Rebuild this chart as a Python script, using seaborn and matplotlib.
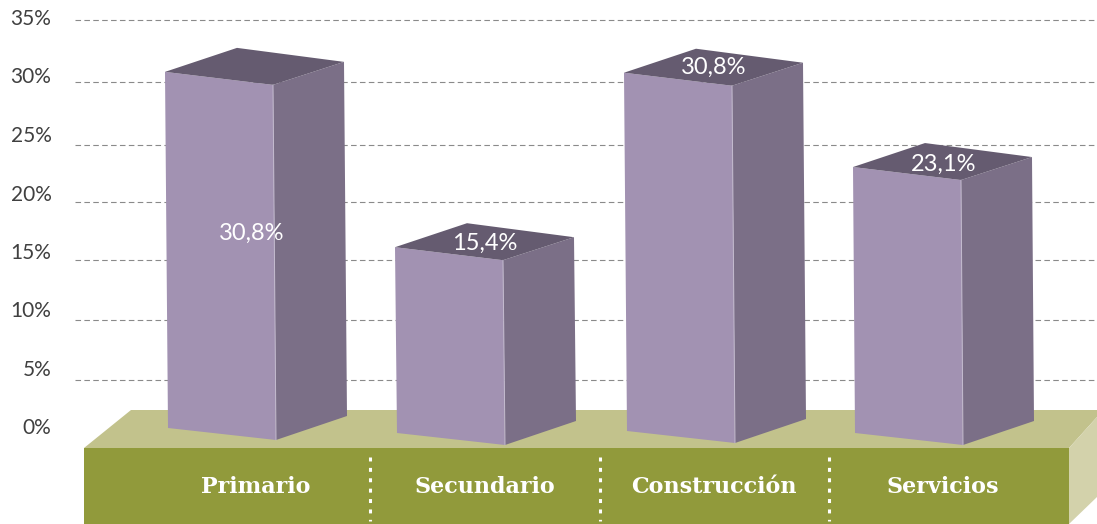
import numpy as np
import matplotlib
matplotlib.use('Agg')
import matplotlib.pyplot as plt
from matplotlib.patches import Polygon
import seaborn as sns

# data
categories = ['Primario', 'Secundario', 'Construcción', 'Servicios']
values = [30.8, 15.4, 30.8, 23.1]
value_labels = ['30,8%', '15,4%', '30,8%', '23,1%']
tick_labels = ['0%', '5%', '10%', '15%', '20%', '25%', '30%', '35%']

# layout, in picture pixels
W, H = 1097, 524
ZERO_PX, PX_PER_PCT = 440, 12
bar_left = [165, 395, 624, 853]
bar_width = 108
bar_base = [440, 445, 443, 445]
bar_scale = [11.53, 12.0, 11.6, 11.47]
bar_lean = [3, 2, 3, 2]
label_pos = [(252, 233), (485, 243), (714, 67), (944, 164)]
cat_x = [256, 485, 714, 943]
sep_x = [370, 600, 829]
tick_y = [426, 368, 309, 251, 193, 134, 75, 17]
grid_y = [380, 320, 260, 202, 145, 82, 20]

FRONT, SIDE, TOP = '#a292b2', '#7b6f87', '#655b70'


def py(y):
    # picture y -> percent on the axis
    return (ZERO_PX - np.asarray(y, dtype=float)) / PX_PER_PCT


def add_poly(ax, pts, color, z):
    xy = [(x, py(y)) for x, y in pts]
    ax.add_patch(Polygon(xy, closed=True, facecolor=color, edgecolor='none', zorder=z))


sns.set_style('white')
plt.rcParams['font.family'] = ['Lato', 'DejaVu Sans']

fig = plt.figure(figsize=(W / 100, H / 100), dpi=100)
ax = fig.add_axes([0, 0, 1, 1])

centers = [x + bar_width / 2 for x in bar_left]
sns.barplot(x=centers, y=values, native_scale=True, width=bar_width / 229, color=FRONT, ax=ax)

# barplot gives the heights, each rectangle is then redrawn as a box
for i, p in enumerate(list(ax.patches)):
    x0, w, h = p.get_x(), p.get_width(), p.get_height()
    base = bar_base[i]
    lean = bar_lean[i]
    top = base - h * bar_scale[i]
    tl = (x0, top - 13)
    tr = (x0 + w, top)
    br = (x0 + w + lean, base)
    bl = (x0 + lean, base - 12)
    add_poly(ax, [tl, tr, br, bl], FRONT, 5)
    add_poly(ax, [tr, (tr[0] + 71, top - 23), (br[0] + 71, base - 24), br], SIDE, 5)
    add_poly(ax, [tl, (x0 + 72, top - 37), (tr[0] + 71, top - 23), tr], TOP, 5)
    ax.plot([tr[0], br[0]], [py(tr[1]), py(br[1])], color='#c4bbcf', lw=0.7, zorder=6)
    p.remove()

# platform under the bars
add_poly(ax, [(84, 448), (131, 410), (W, 410), (W, 417), (1069, 448)], '#c2c28c', 2)
add_poly(ax, [(84, 448), (1069, 448), (1069, H), (84, H)], '#919a3b', 3)
add_poly(ax, [(1069, 448), (W, 417), (W, 497), (1069, H)], '#d3d2ab', 3)

for y in grid_y:
    ax.plot([75, W], [py(y), py(y)], color='#8a8a8a', lw=0.8, dashes=(5, 3), zorder=1)

for x in sep_x:
    ax.plot([x, x], [py(457), py(521)], color='white', lw=2.2, dashes=(1.3, 2.1),
            dash_capstyle='butt', zorder=6)

for (x, y), s in zip(label_pos, value_labels):
    ax.text(x, py(y), s, color='white', fontsize=17, ha='center', va='center', zorder=7)

for x, s in zip(cat_x, categories):
    ax.text(x, py(487), s, color='white', fontsize=16, fontweight='bold',
            family='DejaVu Serif', ha='center', va='center', zorder=7)

ax.set_xlim(0, W)
ax.set_ylim(py(H), py(0))
ax.set_xticks([])
ax.set_yticks(py(tick_y), tick_labels)
ax.tick_params(axis='y', length=0, pad=-37, labelsize=15, labelcolor='#404040')
ax.set(xlabel=None, ylabel=None)
sns.despine(ax=ax, left=True, bottom=True)

fig.savefig('out.png', dpi=100)
